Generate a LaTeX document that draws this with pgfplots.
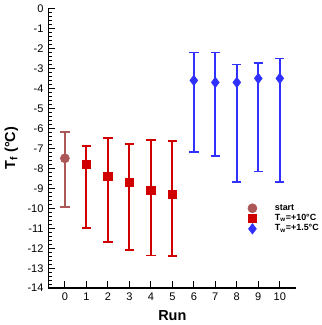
\documentclass[border=0pt]{standalone}
\usepackage{fontspec}
\setmainfont{Liberation Sans}
\usepackage{pgfplots}
\pgfplotsset{compat=1.18}
\definecolor{startc}{RGB}{172,88,88}
\definecolor{warmc}{RGB}{208,0,0}
\definecolor{coldc}{RGB}{48,48,255}

\begin{document}
\begin{tikzpicture}
\begin{axis}[
  scale only axis,
  width=180pt, height=203pt,
  xmin=-0.77, xmax=10.77,
  ymin=-14, ymax=0,
  axis x line=bottom, axis y line=left,
  axis line style={line width=1pt, -},
  xtick={0,...,10},
  ytick={-14,-13,...,0},
  minor y tick num=4,
  tick align=inside,
  major tick length=5pt, minor tick length=3pt,
  tick style={line width=0.8pt, black},
  tick label style={font=\fontsize{8}{9}\selectfont},
  /pgf/number format/assume math mode=true,
  xlabel={\textbf{Run}},
  ylabel={\textbf{T\textsubscript{f} (°C)}},
  label style={font=\fontsize{10.5}{12}\selectfont},
  legend style={draw=none, fill=none, at={(axis cs:8.35,-9.65)}, anchor=north west,
    font=\fontsize{6.5}{7.5}\selectfont\bfseries, row sep=-2.5pt,
    legend cell align=left, inner sep=0pt},
  legend image code/.code={\path[draw=none, fill=none] (0cm,0cm) rectangle (0.7cm,0cm);
    \draw[only marks] plot coordinates {(0.2cm,0cm)};},
  error bars/error bar style={line width=1.3pt},
  error bars/error mark options={rotate=90, mark size=3.4pt, line width=1.3pt},
]
\addplot[forget plot, startc, only marks, mark=*, mark size=3.3pt,
  error bars/.cd, y dir=both, y explicit]
  coordinates {(0,-7.5) +=(0,1.3) -=(0,2.45)};
\addplot[forget plot, warmc, only marks, mark=square*, mark size=3pt,
  error bars/.cd, y dir=both, y explicit]
  coordinates {
  (1,-7.8)  +=(0,0.9)  -=(0,3.2)
  (2,-8.4)  +=(0,1.9)  -=(0,3.3)
  (3,-8.7)  +=(0,1.9)  -=(0,3.4)
  (4,-9.1)  +=(0,2.5)  -=(0,3.26)
  (5,-9.3)  +=(0,2.65) -=(0,3.1)
  };
\addplot[forget plot, coldc, only marks, mark=diamond*, mark size=3.8pt,
  error bars/.cd, y dir=both, y explicit]
  coordinates {
  (6,-3.6)  +=(0,1.4)  -=(0,3.6)
  (7,-3.7)  +=(0,1.5)  -=(0,3.7)
  (8,-3.7)  +=(0,0.9)  -=(0,5.0)
  (9,-3.5)  +=(0,0.78) -=(0,4.66)
  (10,-3.5) +=(0,1.0)  -=(0,5.2)
  };
\addlegendimage{startc, mark=*, mark size=3.3pt}
\addlegendimage{warmc, mark=square*, mark size=3pt}
\addlegendimage{coldc, mark=diamond*, mark size=3.8pt}
\legend{start, T\textsubscript{w}=+10°C, T\textsubscript{w}=+1.5°C}
\end{axis}
\end{tikzpicture}
\end{document}
